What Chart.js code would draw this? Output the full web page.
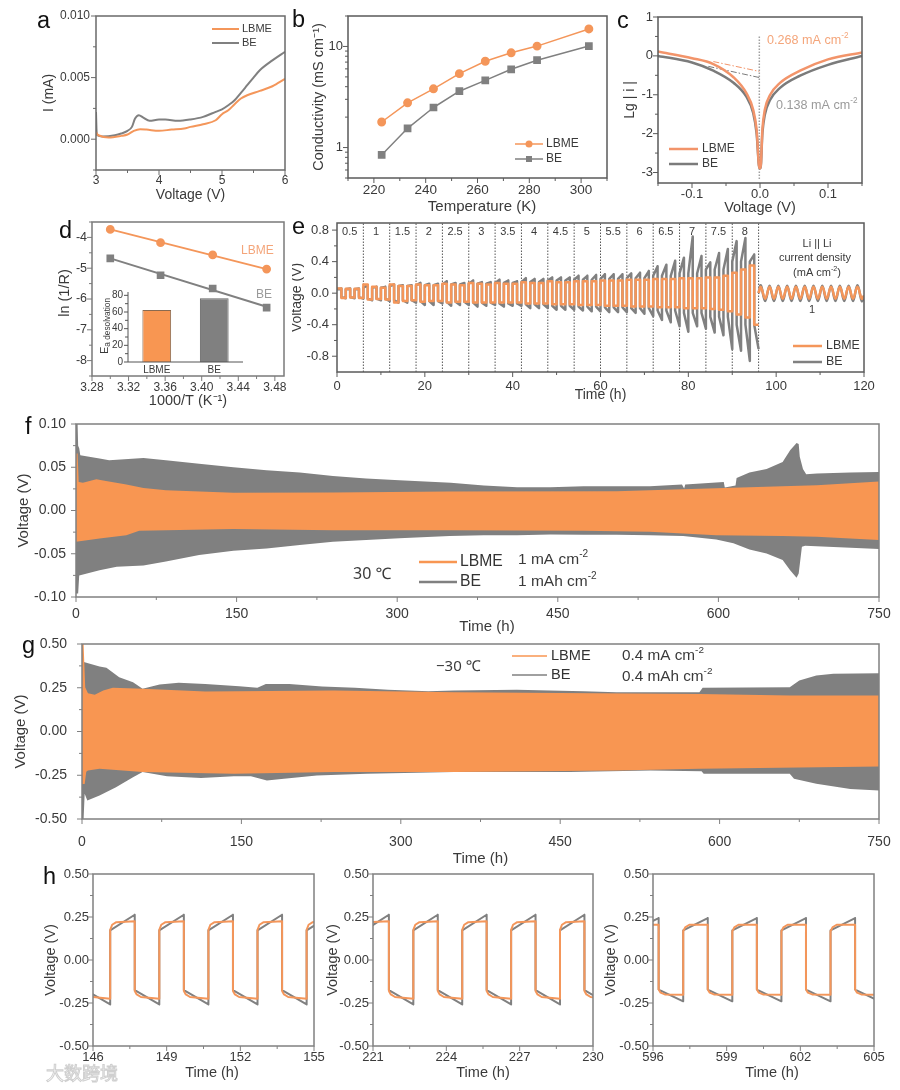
<!DOCTYPE html>
<html>
<head>
<meta charset="utf-8">
<title>LBME vs BE</title>
<script src="https://cdn.jsdelivr.net/npm/chart.js@4"></script>
<style>
  html, body { margin: 0; background: #fff; }
  #page { position: relative; width: 900px; height: 1090px; overflow: hidden; }
  canvas { position: absolute; filter: blur(.35px); }
  .mark { position: absolute; font-family: "Noto Sans CJK SC", sans-serif; color: #fff; -webkit-text-stroke: 1px #cfcfcf; white-space: nowrap; }
</style>
</head>
<body>
<div id="page"></div>
<script>
const ORANGE = '#F4965A', GREY = '#808080', BAND_ORANGE = '#F89652', TEXT = '#3a3a3a'
const FONT = '"Liberation Sans", Arial, sans-serif'

// panel a: LSV
const aVoltLBME = [3,3.01,3.05,3.2,3.4,3.5,3.6,3.7,3.8,4,4.2,4.4,4.5,4.7,4.9,5,5.1,5.2,5.3,5.4,5.6,5.8,6]
const aLBME = [.0006,.00046,.0003,.00014,.00027,.00038,.00068,.00081,.00078,.00068,.00078,.00086,.001,.00122,.00154,.00203,.00235,.00284,.0033,.00357,.00392,.0043,.0049]
const aVoltBE = [3,3.01,3.02,3.1,3.3,3.4,3.5,3.57,3.62,3.68,3.75,3.85,4,4.1,4.3,4.5,4.7,4.9,5,5.1,5.2,5.3,5.4,5.5,5.6,5.8,6]
const aBE = [.0022,.00059,.00032,.00022,.00032,.00046,.00068,.001,.00168,.00195,.00176,.00149,.0016,.0016,.00149,.0016,.00181,.00222,.00243,.00276,.00316,.00376,.00438,.005,.0056,.0064,.0071]

// panel b: conductivity
const bTemp = [223,233,243,253,263,273,283,303]
const bLBME = [1.79,2.77,3.81,5.38,7.14,8.65,10.08,14.9]
const bBE = [.845,1.55,2.49,3.61,4.62,5.94,7.31,10.08]

// panel c: Tafel
const cVolt = [-.15,-.1,-.0686,-.039,-.02,-.01,-.005,-.0008,.0008,.0035,.007,.015,.029,.059,.1,.15]
const cLBME = [.11,-.06,-.21,-.55,-.96,-1.39,-1.9,-2.89,-2.89,-1.9,-1.39,-1,-.7,-.38,-.09,.09]
const cBE = [0,-.17,-.38,-.69,-1.05,-1.47,-1.99,-2.89,-2.89,-1.99,-1.52,-1.13,-.83,-.51,-.23,0]
const cTangentLBMEx = [-.0686,-.001], cTangentLBME = [-.146,-.40]
const cTangentBEx = [-.076,-.001], cTangentBE = [-.27,-.557]
const cGuideX = [-.001,-.001], cGuideY = [.5,-3.2]

// panel d: Arrhenius + inset bars
const dInvT = [3.3,3.355,3.412,3.471]
const dLBME = [-3.74,-4.17,-4.57,-5.03]
const dBE = [-4.68,-5.23,-5.66,-6.28]
const dFitX = [3.3,3.471]
const dFitLBME = [-3.74,-5.03]
const dFitBE = [-4.68,-6.25]
const insetNames = ['LBME','BE']
const insetEa = [62.5,76.4]

// panel e: rate test, one peak per half cycle (1 h each)
const eUpBE = [.06,.06,.06,.10,.08,.08,.11,.10,.10,.13,.12,.12,.15,.13,.13,.16,.14,.14,.17,.16,.15,.19,.18,.18,.20,.20,.20,.22,.22,.23,.24,.24,.24,.25,.26,.28,.34,.36,.41,.45,.72,.47,.39,.51,.56,.66,.70,.49]
const eDownBE = [-.065,-.065,-.07,-.09,-.09,-.10,-.12,-.12,-.12,-.15,-.15,-.13,-.16,-.15,-.15,-.17,-.16,-.15,-.17,-.16,-.16,-.19,-.19,-.19,-.21,-.21,-.21,-.22,-.23,-.23,-.24,-.24,-.24,-.25,-.26,-.29,-.34,-.37,-.42,-.49,-.42,-.45,-.50,-.535,-.71,-.73,-.86,-.71]
const eStartBE = [.05,.07,.09,.10,.11,.12,.13,.14,.16,.17,.18,.19,.22,.25,.30,.40]
const eUpLBME = [.06,.055,.055,.11,.08,.07,.11,.09,.09,.11,.10,.10,.12,.11,.10,.13,.12,.11,.13,.12,.12,.14,.13,.13,.15,.14,.14,.15,.15,.15,.16,.16,.16,.17,.17,.17,.18,.18,.18,.19,.19,.19,.20,.20,.22,.26,.30,.35]
const eDownLBME = [-.06,-.055,-.06,-.08,-.075,-.08,-.12,-.10,-.09,-.11,-.10,-.10,-.12,-.11,-.11,-.12,-.12,-.12,-.12,-.12,-.12,-.13,-.13,-.13,-.14,-.14,-.14,-.15,-.15,-.15,-.16,-.16,-.16,-.17,-.17,-.17,-.18,-.18,-.18,-.19,-.19,-.19,-.20,-.21,-.23,-.27,-.31,-.40]
const eTailTime = [96,96.5,97.5,98.5,99.5,100.5,101.5,102.5,103.5,104.5,105.5,106.5,107.5,108.5,109.5,110.5,111.5,112.5,113.5,114.5,115.5,116.5,117.5,118.5,119.5,120]
const eTailBE = [0,.10,-.10,.095,-.10,.095,-.10,.095,-.10,.095,-.10,.095,-.10,.095,-.10,.095,-.10,.095,-.10,.095,-.10,.095,-.10,.10,-.10,-.04]
const eTailLBME = [0,.08,-.07,.08,-.07,.08,-.07,.08,-.07,.08,-.07,.08,-.07,.08,-.07,.08,-.07,.08,-.07,.08,-.07,.08,-.07,.08,-.07,-.03]
const eSteps = [6,12,18,24,30,36,42,48,54,60,66,72,78,84,90,96]
const eStepNames = ['0.5','1','1.5','2','2.5','3','3.5','4','4.5','5','5.5','6','6.5','7','7.5','8']

// panel f: 30 C cycling, envelope of the dense oscillation
const fTimeBEUp = [0,1.5,2,3,4,22,31,63,84,115,147,178,209,240,271,302,350,381,412,443,474,505,536,566,568,569,605,606,616,617,629,645,660,667,673,675,676,679,682,692,723,750]
const fBEUp = [.10,.10,.075,.072,.064,.060,.058,.0608,.058,.054,.050,.0465,.044,.040,.037,.035,.032,.029,.027,.027,.028,.028,.028,.030,.0254,.030,.033,.0265,.029,.0377,.0438,.048,.056,.0696,.078,.077,.062,.048,.042,.0427,.044,.0446]
const fTimeBELow = [0,2,3,22,38,63,84,115,147,178,209,240,271,302,349,381,412,443,474,505,536,567,598,614,629,645,660,667,673,675,678,681,750]
const fBELow = [-.096,-.096,-.075,-.069,-.065,-.0635,-.059,-.0515,-.0465,-.044,-.040,-.036,-.034,-.032,-.0296,-.0285,-.0285,-.0277,-.028,-.028,-.0285,-.0296,-.0335,-.038,-.045,-.0496,-.0573,-.069,-.0777,-.0727,-.042,-.0408,-.0446]
const fTimeLBMEUp = [0,1.5,2.5,6.5,19,28,47,63,84,147,240,349,505,567,598,660,692,750]
const fLBMEUp = [.066,.066,.033,.032,.036,.034,.030,.026,.0235,.0204,.0208,.022,.0223,.0246,.0258,.028,.0292,.0335]
const fTimeLBMELow = [0,22,47,59,84,147,240,349,474,536,567,598,660,692,750]
const fLBMELow = [-.036,-.0323,-.0285,-.0235,-.0227,-.0215,-.0227,-.0227,-.0235,-.0246,-.0265,-.0285,-.0296,-.0304,-.0342]

// panel g: -30 C cycling
const gTimeBEUp = [0,2.5,16.5,23,35,48,57,73,91,116,148,165,173,195,226,257,288,326,350,409,472,503,581,584,666,675,691,707,750]
const gBEUp = [.40,.396,.371,.364,.31,.282,.244,.269,.278,.272,.259,.25,.272,.272,.257,.25,.238,.23,.234,.238,.23,.225,.225,.25,.253,.291,.32,.33,.333]
const gTimeBELow = [0,1.5,2.5,5,16.5,32,48,57,80,112,143,159,174,190,221,268,315,350,409,459,535,583,585,666,670,691,723,750]
const gBELow = [-.5,-.5,-.356,-.394,-.366,-.318,-.261,-.232,-.255,-.265,-.255,-.255,-.28,-.27,-.251,-.242,-.236,-.232,-.232,-.232,-.223,-.227,-.242,-.242,-.27,-.299,-.328,-.337]
const gTimeLBMEUp = [0,1.5,3,5.6,12,20,29,57,116,237,350,581,666,750]
const gLBMEUp = [.5,.5,.253,.219,.21,.234,.25,.244,.229,.234,.225,.215,.206,.206]
const gTimeLBMELow = [0,2.5,4,5.6,16.5,57,143,237,350,503,581,750]
const gLBMELow = [-.3,-.3,-.23,-.223,-.213,-.232,-.242,-.232,-.232,-.223,-.213,-.2]

// panel h: voltage profiles, switch times of the square wave and the level reached inside a half cycle
const h1Switch = [145.7,146.7,147.7,148.7,149.7,150.7,151.7,152.7,153.7,154.7,155.7]
const h2Switch = [220.65,221.65,222.65,223.65,224.65,225.65,226.65,227.65,228.65,229.65,230.65]
const h3Switch = [595.23,596.23,597.23,598.23,599.23,600.23,601.23,602.23,603.23,604.23,605.23]
const hAtLBME = [0,.08,.25,1], hAtBE = [0,1]
const hLBMEUp = [.175,.205,.22,.225], hLBMEDown = [-.18,-.2,-.215,-.225]
const hBEUp = [.172,.263], hBEDown = [-.175,-.258]
const h3LBMEUp = [.167,.19,.205,.205], h3LBMEDown = [-.172,-.19,-.2,-.202]
const h3BEUp = [.172,.244], h3BEDown = [-.172,-.24]

const zip = (xs, ys) => xs.map((x, i) => ({ x, y: ys[i] }))

function wave(ups, downs, starts) {
  const pts = []
  ups.forEach((up, k) => {
    const s = starts ? starts[Math.floor(k / 3)] : null
    pts.push({ x: 2 * k, y: s === null ? up : s }, { x: 2 * k + 1, y: up })
    pts.push({ x: 2 * k + 1, y: s === null ? downs[k] : -s }, { x: 2 * k + 2, y: downs[k] })
  })
  return pts
}

function halfCycles(switches, firstUp, at, up, down) {
  const pts = []
  switches.slice(0, -1).forEach((t, i) => {
    const levels = (i % 2 === 0) === firstUp ? up : down
    at.forEach((a, j) => pts.push({ x: t + a * (switches[i + 1] - t), y: levels[j] }))
  })
  return pts
}

const line = (label, data, color, extra) => Object.assign({ label, data, borderColor: color, backgroundColor: color, borderWidth: 2, pointRadius: 0, tension: 0, fill: false, borderJoinStyle: 'round' }, extra)
const bandEdge = (data, color, fill) => ({ data, borderColor: color, backgroundColor: color, borderWidth: 0, pointRadius: 0, tension: 0, fill })

// rich text: "cm^{-2}" and "E_{a desolvation}"
function drawNote(ctx, n) {
  const size = n.size || 13
  const runs = []
  n.text.split(/([\^_]\{[^}]*\})/).forEach(part => {
    if (!part) return
    if (/^[\^_]\{/.test(part)) runs.push({ t: part.slice(2, -1), s: size * (n.subScale || .65), dy: part[0] === '^' ? -size * .38 : size * .25 })
    else runs.push({ t: part, s: size, dy: 0 })
  })
  ctx.save()
  ctx.translate(n.x, n.y)
  if (n.rot) ctx.rotate(n.rot * Math.PI / 180)
  ctx.fillStyle = n.color || TEXT
  ctx.textBaseline = n.baseline || 'middle'
  ctx.textAlign = 'left'
  const widths = runs.map(r => { ctx.font = `${r.s}px ${n.family || FONT}`; return ctx.measureText(r.t).width })
  const total = widths.reduce((a, b) => a + b, 0)
  let x = n.align === 'center' ? -total / 2 : 0
  runs.forEach((r, i) => {
    ctx.font = `${r.s}px ${n.family || FONT}`
    ctx.fillText(r.t, x, r.dy)
    x += widths[i]
  })
  ctx.restore()
}

function overlay(cfg, ox, oy) {
  return {
    id: 'overlay',
    afterDatasetsDraw(chart) {
      const { ctx, chartArea: a, scales } = chart
      const color = cfg.frame || GREY
      ctx.save()
      ctx.strokeStyle = color
      ctx.lineWidth = cfg.frameWidth || 1.5
      if (cfg.openFrame) {
        ctx.beginPath()
        ctx.moveTo(a.left, a.top); ctx.lineTo(a.left, a.bottom); ctx.lineTo(a.right, a.bottom)
        ctx.stroke()
      } else {
        ctx.strokeRect(a.left, a.top, a.right - a.left, a.bottom - a.top)
      }
      const mark = (scale, v, len) => {
        const p = scale.getPixelForValue(v)
        ctx.beginPath()
        if (scale.isHorizontal()) { ctx.moveTo(p, a.bottom); ctx.lineTo(p, a.bottom + len) }
        else { ctx.moveTo(a.left, p); ctx.lineTo(a.left - len, p) }
        ctx.stroke()
      }
      ctx.lineWidth = 1
      ;['x', 'y'].forEach(id => {
        const c = cfg[id]
        if (!c.ticks) return
        c.ticks.forEach(v => mark(scales[id], v, cfg.tickLen || 5))
        ;(c.minor || []).forEach(v => mark(scales[id], v, 3))
      })
      ctx.restore()
    },
    afterDraw(chart) {
      const { ctx } = chart
      ;(cfg.keys || []).forEach(k => {
        const ds = chart.data.datasets[k.ds]
        ctx.save()
        ctx.strokeStyle = ds.backgroundColor
        ctx.lineWidth = k.width || 2
        ctx.beginPath()
        ctx.moveTo(k.x1 - ox, k.y - oy); ctx.lineTo(k.x2 - ox, k.y - oy)
        ctx.stroke()
        if (k.point) {
          ctx.fillStyle = ctx.strokeStyle
          const mx = (k.x1 + k.x2) / 2 - ox, my = k.y - oy
          if (k.point === 'circle') { ctx.beginPath(); ctx.arc(mx, my, 3.5, 0, Math.PI * 2); ctx.fill() }
          else ctx.fillRect(mx - 3, my - 3, 6, 6)
        }
        ctx.restore()
        drawNote(ctx, { text: ds.label, x: k.tx - ox, y: k.y - oy, size: k.size, color: k.color })
      })
      ;(cfg.notes || []).forEach(n => drawNote(ctx, Object.assign({}, n, { x: n.x - ox, y: n.y - oy })))
    }
  }
}

function axis(c, side, margin) {
  const size = c.titleSize || 14.5
  const halfLine = size * 1.2 / 2
  const ticks = {
    autoSkip: false,
    maxRotation: 0,
    padding: c.pad === undefined ? 5 : c.pad,
    color: TEXT,
    font: { family: FONT, size: c.size || 12 }
  }
  if (c.dec !== undefined) ticks.callback = v => v.toFixed(c.dec)
  const opts = {
    type: c.type || 'linear',
    grid: { display: false, drawTicks: false },
    border: { display: false },
    afterFit: s => { if (side === 'x') s.height = margin; else s.width = margin },
    ticks,
    title: c.title ? {
      display: true,
      text: c.title,
      color: TEXT,
      font: { family: FONT, size },
      padding: side === 'x' ? { top: 0, bottom: margin - c.titleAt - halfLine } : { top: margin - c.titleAt - halfLine, bottom: 0 }
    } : { display: false }
  }
  if (c.min !== undefined) { opts.min = c.min; opts.max = c.max }
  if (c.ticks) opts.afterBuildTicks = s => { s.ticks = c.ticks.map(value => ({ value })) }
  return opts
}

function panel(cfg) {
  const [l, t, r, b] = cfg.box
  const [ml, mt, mr, mb] = cfg.margin || [70, 16, 30, 42]
  const cv = document.createElement('canvas')
  const w = r - l + ml + mr, h = b - t + mt + mb
  cv.width = w
  cv.height = h
  cv.style.left = (l - ml) + 'px'
  cv.style.top = (t - mt) + 'px'
  cv.style.width = w + 'px'
  cv.style.height = h + 'px'
  document.getElementById('page').appendChild(cv)
  return new Chart(cv, {
    type: cfg.type || 'line',
    data: { labels: cfg.labels, datasets: cfg.datasets },
    options: {
      responsive: false,
      animation: false,
      devicePixelRatio: 1,
      layout: { padding: { top: mt, right: mr, left: 0, bottom: 0 } },
      plugins: { legend: { display: false }, tooltip: { enabled: false } },
      scales: { x: axis(cfg.x, 'x', mb), y: axis(cfg.y, 'y', ml) }
    },
    plugins: [overlay(cfg, l - ml, t - mt)]
  })
}

const letter = (text, x, y) => ({ text, x, y, size: 23.5, color: '#111', baseline: 'alphabetic' })

// a
panel({
  box: [96, 16, 285, 170],
  frame: '#6a6a6a',
  x: { min: 3, max: 6, ticks: [3,4,5,6], minor: [3.5,4.5,5.5], dec: 0, size: 12, pad: 3, title: 'Voltage (V)', titleAt: 25, titleSize: 14 },
  y: { min: -.0025, max: .01, ticks: [0,.005,.01], minor: [-.0025,.0025,.0075], dec: 3, size: 12, pad: 6, title: 'I (mA)', titleAt: 47, titleSize: 14 },
  datasets: [
    line('LBME', zip(aVoltLBME, aLBME), ORANGE, { cubicInterpolationMode: 'monotone' }),
    line('BE', zip(aVoltBE, aBE), GREY, { cubicInterpolationMode: 'monotone' })
  ],
  keys: [
    { ds: 0, x1: 212, x2: 239, y: 29, tx: 242, size: 11 },
    { ds: 1, x1: 212, x2: 239, y: 43, tx: 242, size: 11 }
  ],
  notes: [letter('a', 37, 28)]
})

// b
panel({
  box: [348, 16, 607, 178],
  frame: '#5a5a5a',
  x: { min: 210, max: 310, ticks: [220,240,260,280,300], minor: [210,230,250,270,290,310], dec: 0, size: 13.5, pad: 4 },
  y: { type: 'logarithmic', min: .5, max: 20, ticks: [1,10], minor: [.5,.6,.7,.8,.9,2,3,4,5,6,7,8,9,20], dec: 0, size: 13, title: 'Conductivity (mS cm⁻¹)', titleAt: 29, titleSize: 14.5 },
  datasets: [
    line('LBME', zip(bTemp, bLBME), ORANGE, { borderWidth: 1.5, pointRadius: 3.7, pointStyle: 'circle' }),
    line('BE', zip(bTemp, bBE), GREY, { borderWidth: 1.5, pointRadius: 4.4, pointStyle: 'rect' })
  ],
  keys: [
    { ds: 0, x1: 515, x2: 543, y: 144, tx: 546, size: 12, width: 1.5, point: 'circle' },
    { ds: 1, x1: 515, x2: 543, y: 159, tx: 546, size: 12, width: 1.5, point: 'rect' }
  ],
  notes: [
    letter('b', 292, 27),
    { text: 'Temperature (K)', x: 482, y: 207, size: 15, align: 'center' }
  ]
})

// c
panel({
  box: [658, 17, 862, 183],
  frame: '#5a5a5a',
  margin: [42, 16, 30, 42],
  x: { min: -.15, max: .15, ticks: [-.1,0,.1], minor: [-.15,-.05,.05,.15], dec: 1, size: 13, pad: 4, title: 'Voltage (V)', titleAt: 25, titleSize: 14.5 },
  y: { min: -3.27, max: 1, ticks: [1,0,-1,-2,-3], minor: [.5,-.5,-1.5,-2.5], dec: 0, size: 13, title: 'Lg | i |', titleAt: 28, titleSize: 14 },
  datasets: [
    line('LBME', zip(cVolt, cLBME), '#F2946A', { borderWidth: 2.5, cubicInterpolationMode: 'monotone' }),
    line('BE', zip(cVolt, cBE), '#7b7b7b', { borderWidth: 2.5, cubicInterpolationMode: 'monotone' }),
    line('tangent LBME', zip(cTangentLBMEx, cTangentLBME), '#F2946A', { borderWidth: 1, borderDash: [6, 2, 1.5, 2] }),
    line('tangent BE', zip(cTangentBEx, cTangentBE), '#7b7b7b', { borderWidth: 1, borderDash: [6, 2, 1.5, 2] }),
    line('guide', zip(cGuideX, cGuideY), '#a0a0a0', { borderWidth: 1.5, borderDash: [1.5, 1.5] })
  ],
  keys: [
    { ds: 0, x1: 669, x2: 698, y: 149, tx: 702, size: 12, width: 2.5 },
    { ds: 1, x1: 669, x2: 698, y: 164, tx: 702, size: 12, width: 2.5 }
  ],
  notes: [
    letter('c', 617, 28),
    { text: '0.268 mA cm^{-2}', x: 767, y: 41, size: 12.6, color: '#F4A57A' },
    { text: '0.138 mA cm^{-2}', x: 776, y: 106, size: 12.6, color: '#9a9a9a' }
  ]
})

// d
panel({
  box: [92, 222, 284, 376],
  frame: '#7a7a7a',
  x: { min: 3.28, max: 3.49, ticks: [3.28,3.32,3.36,3.40,3.44,3.48], minor: [3.30,3.34,3.38,3.42,3.46], dec: 2, size: 12, pad: 4, title: '1000/T (K⁻¹)', titleAt: 25, titleSize: 14.5 },
  y: { min: -8.5, max: -3.5, ticks: [-4,-5,-6,-7,-8], minor: [-3.5,-4.5,-5.5,-6.5,-7.5,-8.5], dec: 0, size: 12.5 },
  datasets: [
    line('LBME', zip(dInvT, dLBME), ORANGE, { showLine: false, pointRadius: 3.4, pointStyle: 'circle' }),
    line('BE', zip(dInvT, dBE), GREY, { showLine: false, pointRadius: 4, pointStyle: 'rect' }),
    line('LBME fit', zip(dFitX, dFitLBME), ORANGE),
    line('BE fit', zip(dFitX, dFitBE), GREY)
  ],
  notes: [
    letter('d', 59, 238),
    { text: 'ln (1/R)', x: 65, y: 293, size: 14.5, rot: -90, align: 'center' },
    { text: 'LBME', x: 241, y: 251, size: 12, color: '#F4A57A' },
    { text: 'BE', x: 256, y: 295, size: 12, color: '#9a9a9a' }
  ]
})

// d inset
panel({
  type: 'bar',
  box: [128, 292, 243, 362],
  margin: [40, 14, 14, 18],
  frame: '#555',
  frameWidth: 1,
  openFrame: true,
  tickLen: 4,
  labels: insetNames,
  x: { type: 'category', size: 10, pad: 2 },
  y: { min: 0, max: 84, ticks: [0,20,40,60,80], minor: [10,30,50,70], dec: 0, size: 10, pad: 5 },
  datasets: [{
    data: insetEa,
    backgroundColor: [BAND_ORANGE, GREY],
    borderColor: ['#8a6a50', '#666'],
    borderWidth: 1,
    barPercentage: .5,
    categoryPercentage: 1
  }],
  notes: [{ text: 'E_{a desolvation}', x: 105, y: 326, size: 11, subScale: .75, rot: -90, align: 'center' }]
})

// e
panel({
  box: [337, 223, 864, 372],
  frame: '#5a5a5a',
  margin: [45, 20, 30, 34],
  x: { min: 0, max: 120, ticks: [0,20,40,60,80,100,120], minor: [10,30,50,70,90,110], dec: 0, size: 13, pad: 7, title: 'Time (h)', titleAt: 23, titleSize: 14 },
  y: { min: -1, max: .89, ticks: [.8,.4,0,-.4,-.8], minor: [.6,.2,-.2,-.6], dec: 1, size: 13, pad: 8, title: 'Voltage (V)', titleAt: 40, titleSize: 14 },
  datasets: [
    line('LBME', wave(eUpLBME, eDownLBME), ORANGE, { borderWidth: 2.5 }),
    line('LBME tail', zip(eTailTime, eTailLBME), ORANGE, { tension: .4, borderWidth: 2.5 }),
    line('BE', wave(eUpBE, eDownBE, eStartBE), GREY, { borderWidth: 2.5 }),
    line('BE tail', zip(eTailTime, eTailBE), GREY, { tension: .4, borderWidth: 2.5 }),
    line('steps', eSteps.flatMap(t => [{ x: t, y: -1 }, { x: t, y: .89 }, { x: t, y: null }]), '#555', { borderWidth: 1, borderDash: [1.5, 1.5] })
  ],
  keys: [
    { ds: 0, x1: 793, x2: 822, y: 346, tx: 826, size: 12.4, width: 2.5 },
    { ds: 2, x1: 793, x2: 822, y: 362, tx: 826, size: 12.4, width: 2.5 }
  ],
  notes: [
    letter('e', 292, 234),
    ...eStepNames.map((text, i) => ({ text, x: 337 + (2.9 + 6 * i) * 4.39, y: 232, size: 11, align: 'center' })),
    { text: 'Li || Li', x: 817, y: 244, size: 11, align: 'center' },
    { text: 'current density', x: 815, y: 258, size: 11, align: 'center' },
    { text: '(mA cm^{-2})', x: 817, y: 273, size: 11, align: 'center' },
    { text: '1', x: 812, y: 310, size: 11, align: 'center' }
  ]
})

// f
panel({
  box: [76, 424, 879, 597],
  margin: [62, 26, 30, 42],
  x: { min: 0, max: 750, ticks: [0,150,300,450,600,750], minor: [75,225,375,525,675], dec: 0, size: 14, pad: 9 },
  y: { min: -.1, max: .1, ticks: [.1,.05,0,-.05,-.1], minor: [.075,.025,-.025,-.075], dec: 2, size: 14, pad: 10, title: 'Voltage (V)', titleAt: 52, titleSize: 15 },
  datasets: [
    Object.assign(bandEdge(zip(fTimeLBMEUp, fLBMEUp), BAND_ORANGE, '+1'), { label: 'LBME' }),
    bandEdge(zip(fTimeLBMELow, fLBMELow), BAND_ORANGE, false),
    Object.assign(bandEdge(zip(fTimeBEUp, fBEUp), GREY, '+1'), { label: 'BE' }),
    bandEdge(zip(fTimeBELow, fBELow), GREY, false)
  ],
  keys: [
    { ds: 0, x1: 419, x2: 457, y: 562, tx: 460, size: 15.7, width: 2.5, color: '#333' },
    { ds: 2, x1: 419, x2: 457, y: 582, tx: 460, size: 15.7, width: 2.5, color: '#333' }
  ],
  notes: [
    letter('f', 25, 434),
    { text: 'Time (h)', x: 487, y: 627, size: 15, align: 'center' },
    { text: '30 ℃', x: 353, y: 574, size: 16, family: '"Noto Sans", sans-serif' },
    { text: '1 mA cm^{-2}', x: 518, y: 560, size: 15.5 },
    { text: '1 mAh cm^{-2}', x: 518, y: 582, size: 15.5 }
  ]
})

// g
panel({
  box: [82, 644, 879, 819],
  margin: [70, 30, 32, 52],
  x: { min: 0, max: 750, ticks: [0,150,300,450,600,750], minor: [75,225,375,525,675], dec: 0, size: 14, pad: 15, title: 'Time (h)', titleAt: 40, titleSize: 15 },
  y: { min: -.5, max: .5, ticks: [.5,.25,0,-.25,-.5], minor: [.375,.125,-.125,-.375], dec: 2, size: 14, pad: 15, title: 'Voltage (V)', titleAt: 61, titleSize: 15 },
  datasets: [
    Object.assign(bandEdge(zip(gTimeLBMEUp, gLBMEUp), BAND_ORANGE, '+1'), { label: 'LBME' }),
    bandEdge(zip(gTimeLBMELow, gLBMELow), BAND_ORANGE, false),
    Object.assign(bandEdge(zip(gTimeBEUp, gBEUp), GREY, '+1'), { label: 'BE' }),
    bandEdge(zip(gTimeBELow, gBELow), GREY, false)
  ],
  keys: [
    { ds: 0, x1: 512, x2: 547, y: 656, tx: 551, size: 14.6, width: 1.5, color: '#333' },
    { ds: 2, x1: 512, x2: 547, y: 675, tx: 551, size: 14.6, width: 1.5, color: '#333' }
  ],
  notes: [
    letter('g', 22, 653),
    { text: '−30 ℃', x: 436, y: 667, size: 15, family: '"Noto Sans", sans-serif' },
    { text: '0.4 mA cm^{-2}', x: 622, y: 656, size: 15.3 },
    { text: '0.4 mAh cm^{-2}', x: 622, y: 677, size: 15.3 }
  ]
})

// h
const hY = { min: -.5, max: .5, ticks: [.5,.25,0,-.25,-.5], minor: [.375,.125,-.125,-.375], dec: 2, size: 13, pad: 4, title: 'Voltage (V)', titleSize: 14.5 }

panel({
  box: [93, 874, 314, 1046],
  x: { min: 146, max: 155, ticks: [146,149,152,155], minor: [147.5,150.5,153.5], dec: 0, size: 13, pad: 4 },
  y: Object.assign({ titleAt: 42.5 }, hY),
  datasets: [
    line('LBME', halfCycles(h1Switch, false, hAtLBME, hLBMEUp, hLBMEDown), ORANGE),
    line('BE', halfCycles(h1Switch, false, hAtBE, hBEUp, hBEDown), GREY)
  ],
  notes: [
    letter('h', 43, 884),
    { text: 'Time (h)', x: 212, y: 1073, size: 14.5, align: 'center' }
  ]
})

panel({
  box: [373, 874, 593, 1046],
  x: { min: 221, max: 230, ticks: [221,224,227,230], minor: [222.5,225.5,228.5], dec: 0, size: 13, pad: 4, title: 'Time (h)', titleAt: 27, titleSize: 14.5 },
  y: Object.assign({ titleAt: 40 }, hY),
  datasets: [
    line('LBME', halfCycles(h2Switch, true, hAtLBME, hLBMEUp, hLBMEDown), ORANGE),
    line('BE', halfCycles(h2Switch, true, hAtBE, hBEUp, hBEDown), GREY)
  ]
})

panel({
  box: [653, 874, 874, 1046],
  x: { min: 596, max: 605, ticks: [596,599,602,605], minor: [597.5,600.5,603.5], dec: 0, size: 13, pad: 4 },
  y: Object.assign({ titleAt: 42.5 }, hY),
  datasets: [
    line('LBME', halfCycles(h3Switch, true, hAtLBME, h3LBMEUp, h3LBMEDown), ORANGE),
    line('BE', halfCycles(h3Switch, true, hAtBE, h3BEUp, h3BEDown), GREY)
  ],
  notes: [{ text: 'Time (h)', x: 772, y: 1073, size: 14.5, align: 'center' }]
})

// watermark in the bottom left corner
const mark = document.createElement('div')
mark.className = 'mark'
mark.textContent = '大数跨境'
mark.style.cssText = 'left:46px;top:1059px;font-size:18px;'
document.getElementById('page').appendChild(mark)
</script>
</body>
</html>
